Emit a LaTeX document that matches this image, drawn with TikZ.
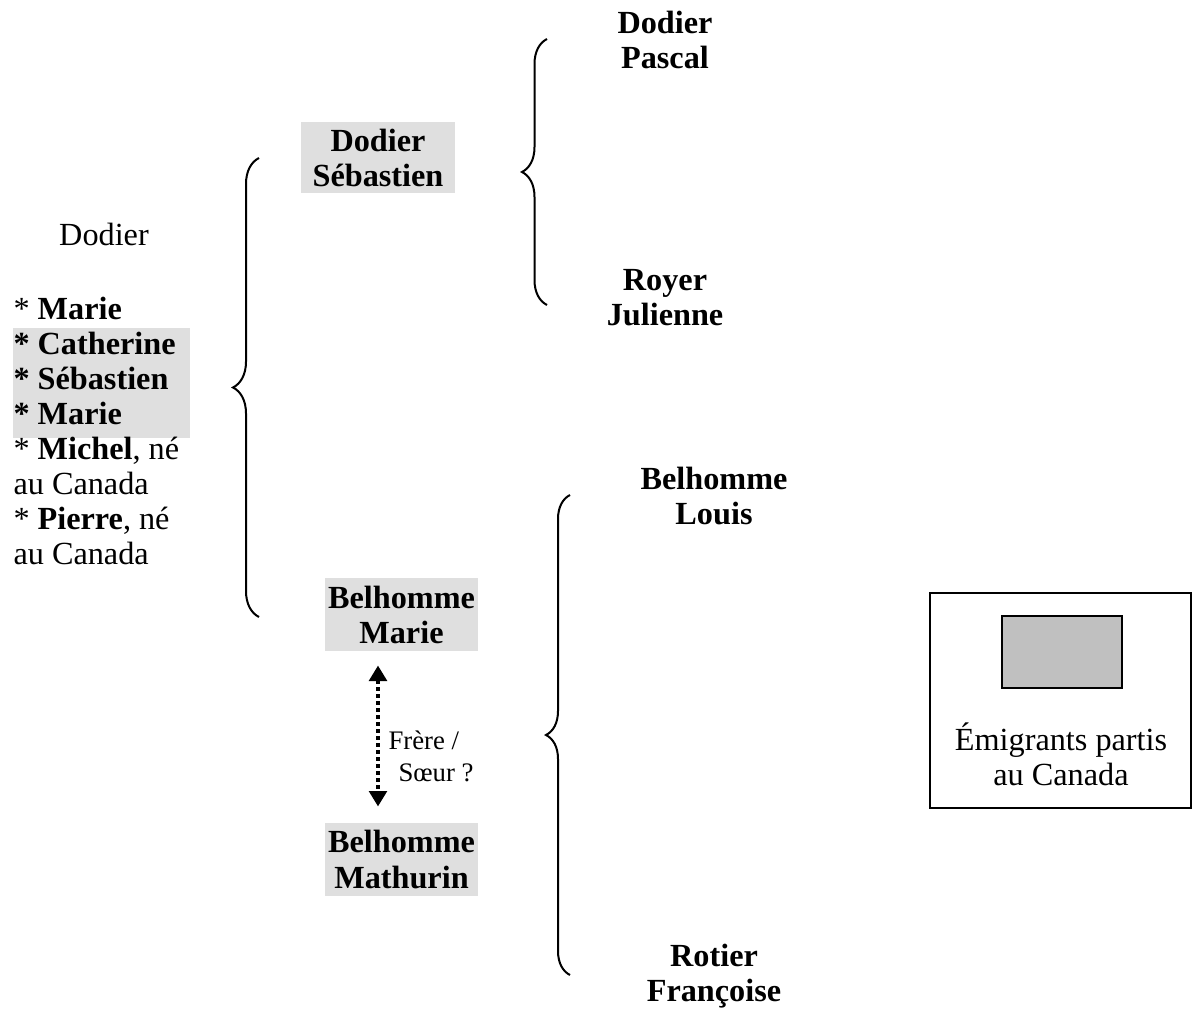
\documentclass[tikz,border=0pt]{standalone}
\usepackage{fontspec}
\setmainfont{Liberation Serif}
\usetikzlibrary{decorations.pathreplacing,arrows.meta}
\definecolor{boxgray}{HTML}{DFDFDF}
\definecolor{leggray}{HTML}{C0C0C0}
\newcommand{\mainsz}{\fontsize{12.9}{14}\selectfont}
\begin{document}
\begin{tikzpicture}[x=0.4pt,y=-0.4pt,
  txt/.style={font=\mainsz\bfseries, align=center, inner sep=0pt},
  plain/.style={font=\mainsz, inner sep=0pt},
  boldline/.style={font=\mainsz\bfseries, inner sep=0pt},
  small/.style={font=\fontsize{10.7}{12.8}\selectfont, inner sep=0pt},
  graybox/.style={txt, fill=boxgray, minimum width=61.4pt, minimum height=29pt},
  bracepath/.style={decorate, decoration={brace, amplitude=#1, aspect=0.5}, line width=0.8pt},
  dotarrow/.style={{Triangle[width=7pt,length=6.2pt]}-{Triangle[width=7pt,length=6.2pt]}, line width=1.6pt, dash pattern=on 1.5pt off 1.3pt},
]
\useasboundingbox (0,0) rectangle (1192,1012);

% grandparents
\node[txt] (dp) at (665,40) {Dodier\\Pascal};
\node[txt] (rj) at (665,298) {Royer\\Julienne};
\node[txt] (bl) at (714,496) {Belhomme\\Louis};
\node[txt] (rf) at (714,976) {Rotier\\Françoise};

% parents
\node[graybox, minimum height=28.4pt] (ds) at (378,157.5) {Dodier\\Sébastien};
\node[graybox, minimum height=29.2pt] (bm) at (401.5,614.5) {Belhomme\\Marie};
\node[graybox, minimum height=29.2pt] (bmt) at (401.5,859.5) {Belhomme\\Mathurin};

% children list
\node[fill=boxgray, minimum width=70.8pt, minimum height=44pt, inner sep=0pt] (lg) at (101.5,383) {};
\node[plain, anchor=base] (dodier) at (104,246) {Dodier};
\node[plain, anchor=base west] (c1) at (13,319) {* \textbf{Marie}};
\node[boldline, anchor=base west] (c2) at (13,354) {* Catherine};
\node[boldline, anchor=base west] (c3) at (13,389) {* Sébastien};
\node[boldline, anchor=base west] (c4) at (13,424) {* Marie};
\node[plain, anchor=base west] (c5) at (13,459) {* \textbf{Michel}, né};
\node[plain, anchor=base west] (c6) at (13,494) {au Canada};
\node[plain, anchor=base west] (c7) at (13,529) {* \textbf{Pierre}, né};
\node[plain, anchor=base west] (c8) at (13,564) {au Canada};

% braces
\coordinate (b1t) at (547,39);
\coordinate (b1b) at (547,305);
\coordinate (b2t) at (259,158);
\coordinate (b2b) at (259,617);
\coordinate (b3t) at (570,495);
\coordinate (b3b) at (570,975);
\draw[bracepath=10pt] (b1b) -- (b1t);
\draw[bracepath=10.4pt] (b2b) -- (b2t);
\draw[bracepath=9.6pt] (b3b) -- (b3t);

% sibling arrow
\coordinate (ax) at (378,0);
\draw[dotarrow, shorten <=5.6pt, shorten >=6.4pt] (bm.south -| ax) -- (bmt.north -| ax);
\node[small, anchor=base west] (fr1) at (388,749) {Frère /};
\node[small, anchor=base west] (fr2) at (398,781) {Sœur ?};

% legend
\node[draw, line width=0.9pt, minimum width=104.4pt, minimum height=86pt, inner sep=0pt] (legend) at (1060.5,700.5) {};
\node[draw, fill=leggray, line width=0.9pt, minimum width=48pt, minimum height=28.8pt, inner sep=0pt] (legsw) at (1062,652) {};
\node[plain, align=center] (legtxt) at (1061,754) {Émigrants partis\\au Canada};
\end{tikzpicture}
\end{document}
